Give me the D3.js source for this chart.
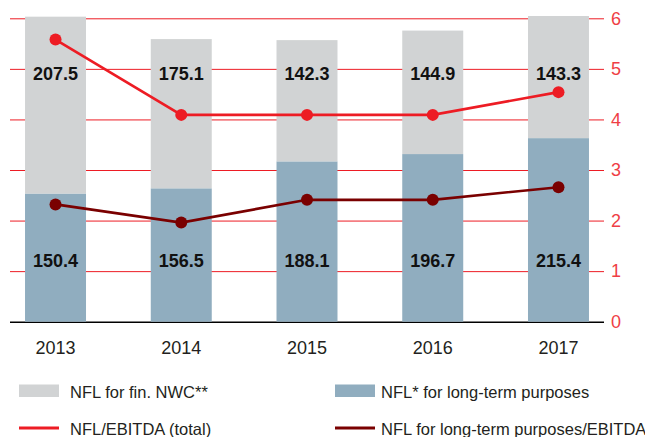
<!DOCTYPE html>
<html>
<head>
<meta charset="utf-8">
<script src="https://cdn.jsdelivr.net/npm/d3@7"></script>
<style>
  html, body { margin: 0; padding: 0; background: #fff; }
  svg { display: block; font-family: "Liberation Sans", Arial, sans-serif; }
</style>
</head>
<body>
<svg id="chart" width="645" height="437"></svg>
<script>
// Net financial liabilities (NFL), stacked bars, with leverage ratios on the right axis
const years = ["2013", "2014", "2015", "2016", "2017"];
const nflLongTerm = [150.4, 156.5, 188.1, 196.7, 215.4];   // NFL* for long-term purposes
const nflNwc = [207.5, 175.1, 142.3, 144.9, 143.3];        // NFL for fin. NWC**
const ratioTotal = [5.58, 4.09, 4.09, 4.09, 4.54];         // NFL/EBITDA (total)
const ratioLongTerm = [2.32, 1.96, 2.41, 2.41, 2.66];      // NFL for long-term purposes/EBITDA
const ratioTicks = [0, 1, 2, 3, 4, 5, 6];

const colors = {
  nwc: "#d1d3d4",
  longTerm: "#90adbf",
  total: "#ed1c24",
  longRatio: "#7a0000",
  grid: "#ed1c24",
  axisText: "#ef3e45",
  text: "#231f20"
};

const svg = d3.select("#chart");

const x = d3.scaleBand()
  .domain(years)
  .range([10, 604])
  .paddingInner(0.515)
  .paddingOuter(0.1195);

const yTop = 18.3, yBottom = 321.7;
const yLeft = d3.scaleLinear().domain([0, 356]).range([yBottom, yTop]);
const yRight = d3.scaleLinear().domain([0, 6]).range([yBottom, yTop]);

// Horizontal grid lines, reaching the right-hand ticks
const grid = svg.append("g")
  .attr("transform", "translate(604,0)")
  .call(d3.axisLeft(yRight).tickValues(ratioTicks).tickSize(594).tickFormat(""));
grid.select(".domain").remove();
grid.selectAll(".tick line")
  .attr("stroke", d => d === 0 ? "#000" : colors.grid)
  .attr("stroke-width", d => d === 0 ? 1.5 : 1);

// Stacked bars
const stackData = years.map((y, i) => ({ year: y, longTerm: nflLongTerm[i], nwc: nflNwc[i] }));
const series = d3.stack().keys(["longTerm", "nwc"])(stackData);

svg.append("g").selectAll("g")
  .data(series)
  .join("g")
  .attr("fill", d => colors[d.key])
  .selectAll("rect")
  .data(d => d)
  .join("rect")
  .attr("x", d => x(d.data.year))
  .attr("width", x.bandwidth())
  .attr("y", d => yLeft(d[1]))
  .attr("height", d => yLeft(d[0]) - yLeft(d[1]));

// Value labels inside the bars
const cx = y => x(y) + x.bandwidth() / 2;
const labelStyle = sel => sel
  .attr("text-anchor", "middle")
  .attr("font-size", 18)
  .attr("font-weight", "bold")
  .attr("fill", "#111");

svg.append("g").selectAll("text")
  .data(stackData)
  .join("text")
  .attr("x", d => cx(d.year))
  .attr("y", 80)
  .text(d => d.nwc.toFixed(1))
  .call(labelStyle);

svg.append("g").selectAll("text")
  .data(stackData)
  .join("text")
  .attr("x", d => cx(d.year))
  .attr("y", 266.5)
  .text(d => d.longTerm.toFixed(1))
  .call(labelStyle);

// Ratio lines with dots
function drawRatio(values, color) {
  const pts = years.map((y, i) => [cx(y), yRight(values[i])]);
  svg.append("path")
    .datum(pts)
    .attr("fill", "none")
    .attr("stroke", color)
    .attr("stroke-width", 2.6)
    .attr("d", d3.line());
  svg.append("g").selectAll("circle")
    .data(pts)
    .join("circle")
    .attr("cx", d => d[0])
    .attr("cy", d => d[1])
    .attr("r", 6)
    .attr("fill", color);
}
drawRatio(ratioLongTerm, colors.longRatio);
drawRatio(ratioTotal, colors.total);

// Right axis labels
const rightAxis = svg.append("g")
  .attr("transform", "translate(604,0)")
  .call(d3.axisRight(yRight).tickValues(ratioTicks).tickFormat(d3.format("d")).tickSize(0).tickPadding(7));
rightAxis.select(".domain").remove();
rightAxis.selectAll("text")
  .attr("font-size", 18)
  .attr("font-family", "Liberation Sans, Arial, sans-serif")
  .attr("fill", colors.axisText);

// Category axis
const bottomAxis = svg.append("g")
  .attr("transform", `translate(0,${yBottom})`)
  .call(d3.axisBottom(x).tickSize(0).tickPadding(20));
bottomAxis.select(".domain").remove();
bottomAxis.selectAll("text")
  .attr("font-size", 18)
  .attr("font-family", "Liberation Sans, Arial, sans-serif")
  .attr("fill", colors.text);

// Legend
const legendItems = [
  { label: "NFL for fin. NWC**", type: "rect", color: colors.nwc, x: 19, y: 391, textDx: 51 },
  { label: "NFL* for long-term purposes", type: "rect", color: colors.longTerm, x: 335, y: 391, textDx: 46 },
  { label: "NFL/EBITDA (total)", type: "line", color: colors.total, x: 19, y: 428, textDx: 51 },
  { label: "NFL for long-term purposes/EBITDA", type: "line", color: colors.longRatio, x: 335, y: 428, textDx: 46 }
];

const legend = svg.append("g").selectAll("g")
  .data(legendItems)
  .join("g")
  .attr("transform", d => `translate(${d.x},${d.y})`);

legend.filter(d => d.type === "rect").append("rect")
  .attr("x", 0).attr("y", -6.5)
  .attr("width", 40).attr("height", 12.5)
  .attr("fill", d => d.color);

legend.filter(d => d.type === "line").append("line")
  .attr("x1", 0).attr("x2", 40)
  .attr("stroke", d => d.color)
  .attr("stroke-width", 3);

legend.append("text")
  .attr("x", d => d.textDx)
  .attr("y", 6.5)
  .attr("font-size", 16.5)
  .attr("fill", colors.text)
  .text(d => d.label);
</script>
</body>
</html>
